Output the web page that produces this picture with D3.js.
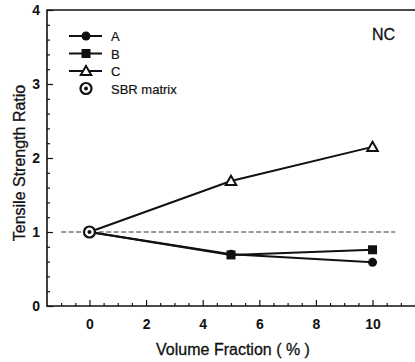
<!DOCTYPE html>
<html>
<head>
<meta charset="utf-8">
<script src="https://cdn.jsdelivr.net/npm/d3@7"></script>
<style>
	body { margin: 0; background: #fff; }
	text { font-family: "Liberation Sans", Arial, sans-serif; fill: #111; }
</style>
</head>
<body>
<svg id="chart" width="415" height="362"></svg>
<script>
// data
const volumeFraction = [0, 5, 10]
const seriesA = [1.0, 0.70, 0.59]
const seriesB = [1.0, 0.69, 0.76]
const seriesC = [1.0, 1.69, 2.15]
const sbrMatrix = [[0, 1.0]]
const xTicks = [0, 2, 4, 6, 8, 10]
const yTicks = [0, 1, 2, 3, 4]
const legendNames = ["A", "B", "C", "SBR matrix"]

const svg = d3.select("#chart")
const margin = {left: 47, top: 10, right: 0, bottom: 56}
const W = 415, H = 362

const x = d3.scaleLinear().domain([-1.5, 11.5]).range([margin.left, 415])
const y = d3.scaleLinear().domain([0, 4]).range([H - margin.bottom, margin.top])

const g = svg.append("g")

// frame (right side runs off the picture)
g.append("path")
	.attr("d", `M${x(11.6)},${y(4)}H${x(-1.5)}V${y(0)}H${x(11.6)}`)
	.attr("fill", "none").attr("stroke", "#111").attr("stroke-width", 1.6)

// ticks point inward
let xAxis = d3.axisBottom(x).tickValues(xTicks).tickSize(-6).tickPadding(13).tickFormat(d3.format("d"))
let xg = g.append("g").attr("transform", `translate(0,${y(0)})`).call(xAxis)
xg.select(".domain").remove()
g.append("g").attr("transform", `translate(0,${y(0)})`)
	.call(d3.axisBottom(x).tickValues(d3.range(-1, 11.6, 0.5).filter(v => v % 2 !== 0)).tickSize(-3).tickFormat(""))
	.select(".domain").remove()

let yAxis = d3.axisLeft(y).tickValues(yTicks).tickSize(-6).tickPadding(7).tickFormat(d3.format("d"))
let yg = g.append("g").attr("transform", `translate(${x(-1.5)},0)`).call(yAxis)
yg.select(".domain").remove()
g.append("g").attr("transform", `translate(${x(-1.5)},0)`)
	.call(d3.axisLeft(y).tickValues(d3.range(0.2, 4, 0.2).filter(v => Math.abs(v - Math.round(v)) > 0.01)).tickSize(-3).tickFormat(""))
	.select(".domain").remove()

g.selectAll(".tick line").attr("stroke", "#111").attr("stroke-width", 1.2)
g.selectAll(".tick text").style("font-size", "14px").style("font-weight", "bold")
	.style("font-family", "'Liberation Sans', Arial, sans-serif").attr("fill", "#111")

// axis titles
svg.append("text")
	.attr("x", 233).attr("y", 355)
	.attr("text-anchor", "middle").style("font-size", "16px")
	.attr("stroke", "#111").attr("stroke-width", 0.3)
	.text("Volume Fraction ( % )")
svg.append("text")
	.attr("transform", `translate(25,163) rotate(-90)`)
	.attr("text-anchor", "middle").style("font-size", "16px")
	.attr("stroke", "#111").attr("stroke-width", 0.3)
	.text("Tensile Strength Ratio")

svg.append("text").attr("x", 372).attr("y", 40).style("font-size", "16px")
	.attr("stroke", "#111").attr("stroke-width", 0.3).text("NC")

// reference line at ratio 1
g.append("line")
	.attr("x1", x(-1)).attr("x2", x(10.8)).attr("y1", y(1)).attr("y2", y(1))
	.attr("stroke", "#333").attr("stroke-width", 1).attr("stroke-dasharray", "5,2.5")

const line = d3.line().x(d => x(d[0])).y(d => y(d[1]))
const series = [seriesA, seriesB, seriesC].map(vals => vals.map((v, i) => [volumeFraction[i], v]))

series.forEach(s => {
	g.append("path").attr("d", line(s)).attr("fill", "none")
		.attr("stroke", "#111").attr("stroke-width", 2)
})

function marker(sel, k, cx, cy) {
	if (k === 0) {
		sel.append("circle").attr("cx", cx).attr("cy", cy).attr("r", 4.5).attr("fill", "#111")
	} else if (k === 1) {
		sel.append("rect").attr("x", cx - 4.5).attr("y", cy - 4.5).attr("width", 9).attr("height", 9).attr("fill", "#111")
	} else if (k === 2) {
		sel.append("path").attr("d", d3.symbol(d3.symbolTriangle, 48)())
			.attr("transform", `translate(${cx},${cy + 1})`)
			.attr("fill", "#fff").attr("stroke", "#111").attr("stroke-width", 2)
	} else {
		sel.append("circle").attr("cx", cx).attr("cy", cy).attr("r", 5.5)
			.attr("fill", "#fff").attr("stroke", "#111").attr("stroke-width", 2.2)
		sel.append("circle").attr("cx", cx).attr("cy", cy).attr("r", 2).attr("fill", "#111")
	}
}

series.forEach((s, k) => {
	s.slice(1).forEach(d => marker(g, k, x(d[0]), y(d[1])))
})
sbrMatrix.forEach(d => marker(g, 3, x(d[0]), y(d[1])))

// legend
const leg = svg.append("g")
legendNames.forEach((name, i) => {
	let ly = 36 + i * 17.5
	if (i < 3) {
		leg.append("line").attr("x1", 69).attr("x2", 102).attr("y1", ly).attr("y2", ly)
			.attr("stroke", "#111").attr("stroke-width", 2)
	}
	marker(leg, i, 86, ly)
	leg.append("text").attr("x", 111).attr("y", ly + 5).style("font-size", "13px")
		.attr("stroke", "#111").attr("stroke-width", 0.2).text(name)
})
</script>
</body>
</html>
